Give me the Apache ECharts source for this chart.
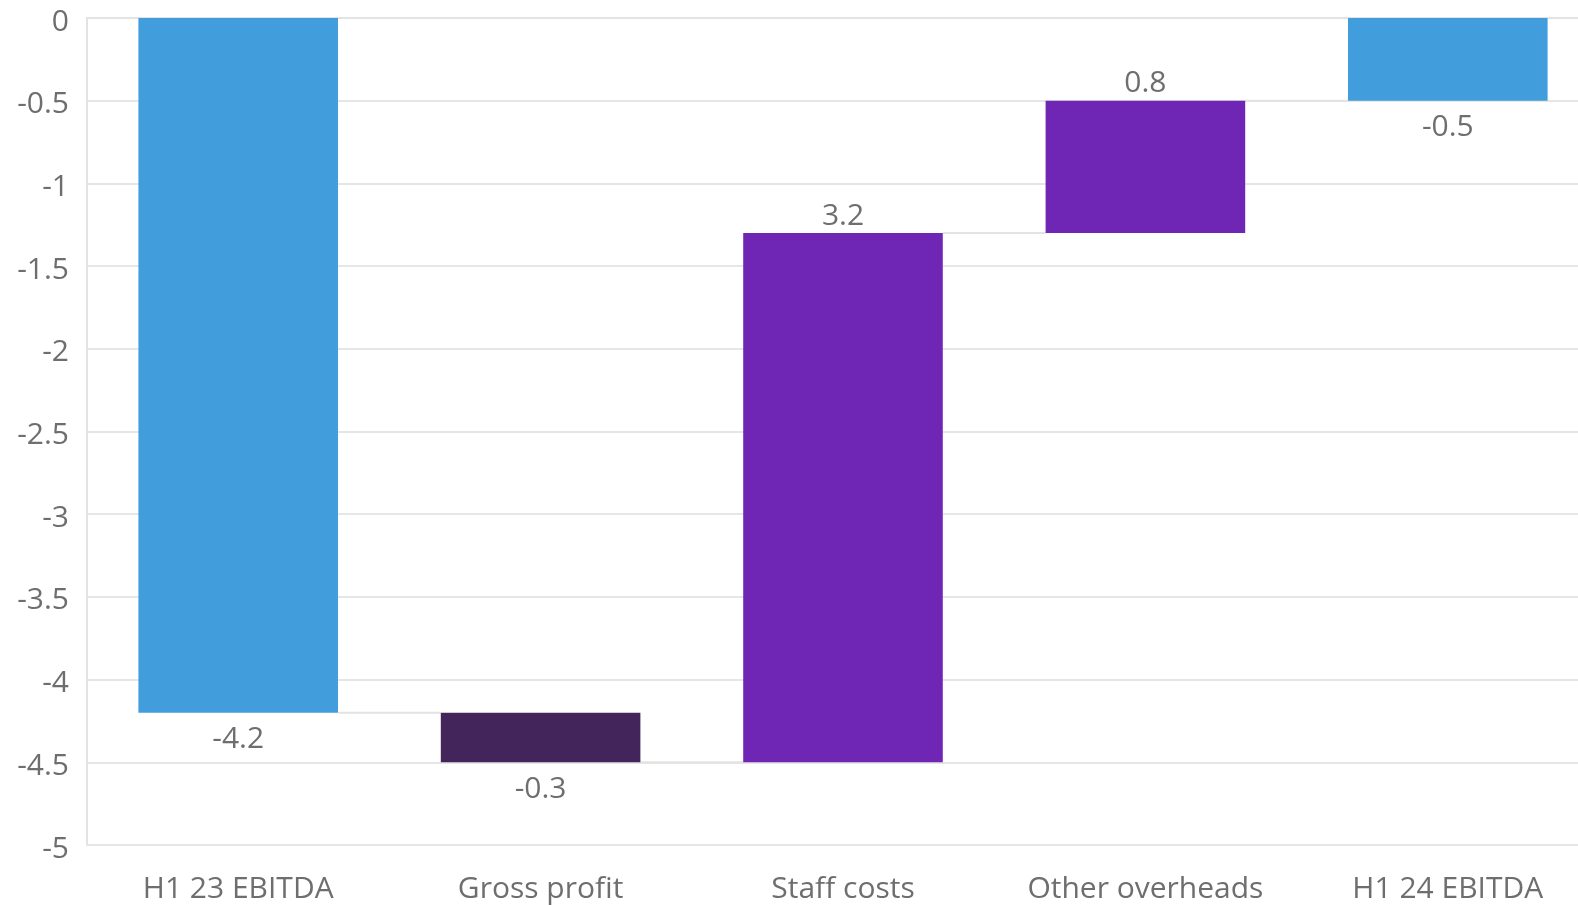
<!DOCTYPE html>
<html>
<head>
<meta charset="utf-8">
<script src="https://cdn.jsdelivr.net/npm/echarts@6/dist/echarts.min.js"></script>
<style>
html,body{margin:0;padding:0;background:#fff;}
#chart{width:1578px;height:905px;}
</style>
</head>
<body>
<div id="chart"></div>
<script>
const categories = ['H1 23 EBITDA', 'Gross profit', 'Staff costs', 'Other overheads', 'H1 24 EBITDA'];
const changes = [-4.2, -0.3, 3.2, 0.8, -0.5];
const kinds = ['total', 'delta', 'delta', 'delta', 'total'];
const yTicks = { min: -5, max: 0, interval: 0.5 };

const COLORS = { total: '#429ddc', up: '#7026b4', down: '#43245b' };
const BAR_FRAC = 0.66;

// compute waterfall spans
const hi = [], lo = [], ends = [];
let run = 0;
changes.forEach((v, i) => {
  let a, b;
  if (kinds[i] === 'total') { a = 0; b = v; run = v; }
  else { a = run; b = run + v; run = b; }
  hi.push(Math.min(0, Math.max(a, b)));
  lo.push(Math.min(a, b));
  ends.push(run);
});
const placeholder = hi.map(h => h);
const visible = hi.map((h, i) => +(lo[i] - h).toFixed(4));

const font = "'Segoe UI', 'Open Sans', 'Noto Sans', sans-serif";

const visData = visible.map((v, i) => {
  let color;
  if (kinds[i] === 'total') color = COLORS.total;
  else color = changes[i] >= 0 ? COLORS.up : COLORS.down;
  const up = (kinds[i] === 'delta' && changes[i] > 0);
  return {
    value: v,
    itemStyle: { color },
    label: {
      show: true,
      position: up ? 'top' : 'bottom',
      distance: up ? 2 : 12,
      formatter: () => String(changes[i])
    }
  };
});

const chart = echarts.init(document.getElementById('chart'));
chart.setOption({
  animation: false,
  grid: { left: 87, width: 1512, top: 18, height: 827, outerBoundsMode: 'none', containLabel: false },
  xAxis: {
    type: 'category',
    data: categories,
    axisLine: { show: true, lineStyle: { color: '#e3e3e3', width: 2 } },
    axisTick: { show: false },
    axisLabel: { color: '#6e6e6e', fontSize: 30, fontFamily: font, margin: 29, interval: 0 }
  },
  yAxis: {
    type: 'value',
    min: yTicks.min, max: yTicks.max, interval: yTicks.interval,
    axisLine: { show: true, lineStyle: { color: '#e3e3e3', width: 2 } },
    axisTick: { show: false },
    splitLine: { lineStyle: { color: '#e6e6e6', width: 2 } },
    axisLabel: {
      margin: 18,
      formatter: '{a|{value}}',
      rich: { a: { color: '#6e6e6e', fontSize: 30, fontFamily: font, padding: [8, 0, 0, 0] } }
    }
  },
  series: [
    {
      type: 'bar', stack: 'wf', data: placeholder, barWidth: (BAR_FRAC * 100) + '%',
      itemStyle: { color: 'transparent' }, silent: true
    },
    {
      type: 'bar', stack: 'wf', data: visData, barWidth: (BAR_FRAC * 100) + '%',
      label: { color: '#6e6e6e', fontSize: 30, fontFamily: font }
    },
    {
      type: 'custom',
      data: ends.slice(0, -1).map((e, i) => [i, e]),
      renderItem: function (params, api) {
        const i = api.value(0);
        const level = api.value(1);
        const p0 = api.coord([i, level]);
        const p1 = api.coord([i + 1, level]);
        const bw = api.size([1, 0])[0] * BAR_FRAC;
        return {
          type: 'line',
          shape: { x1: p0[0] + bw / 2, y1: p0[1], x2: p1[0] - bw / 2, y2: p1[1] },
          style: { stroke: '#e3e3e3', lineWidth: 2 }
        };
      },
      z: 1
    }
  ]
});
</script>
</body>
</html>
